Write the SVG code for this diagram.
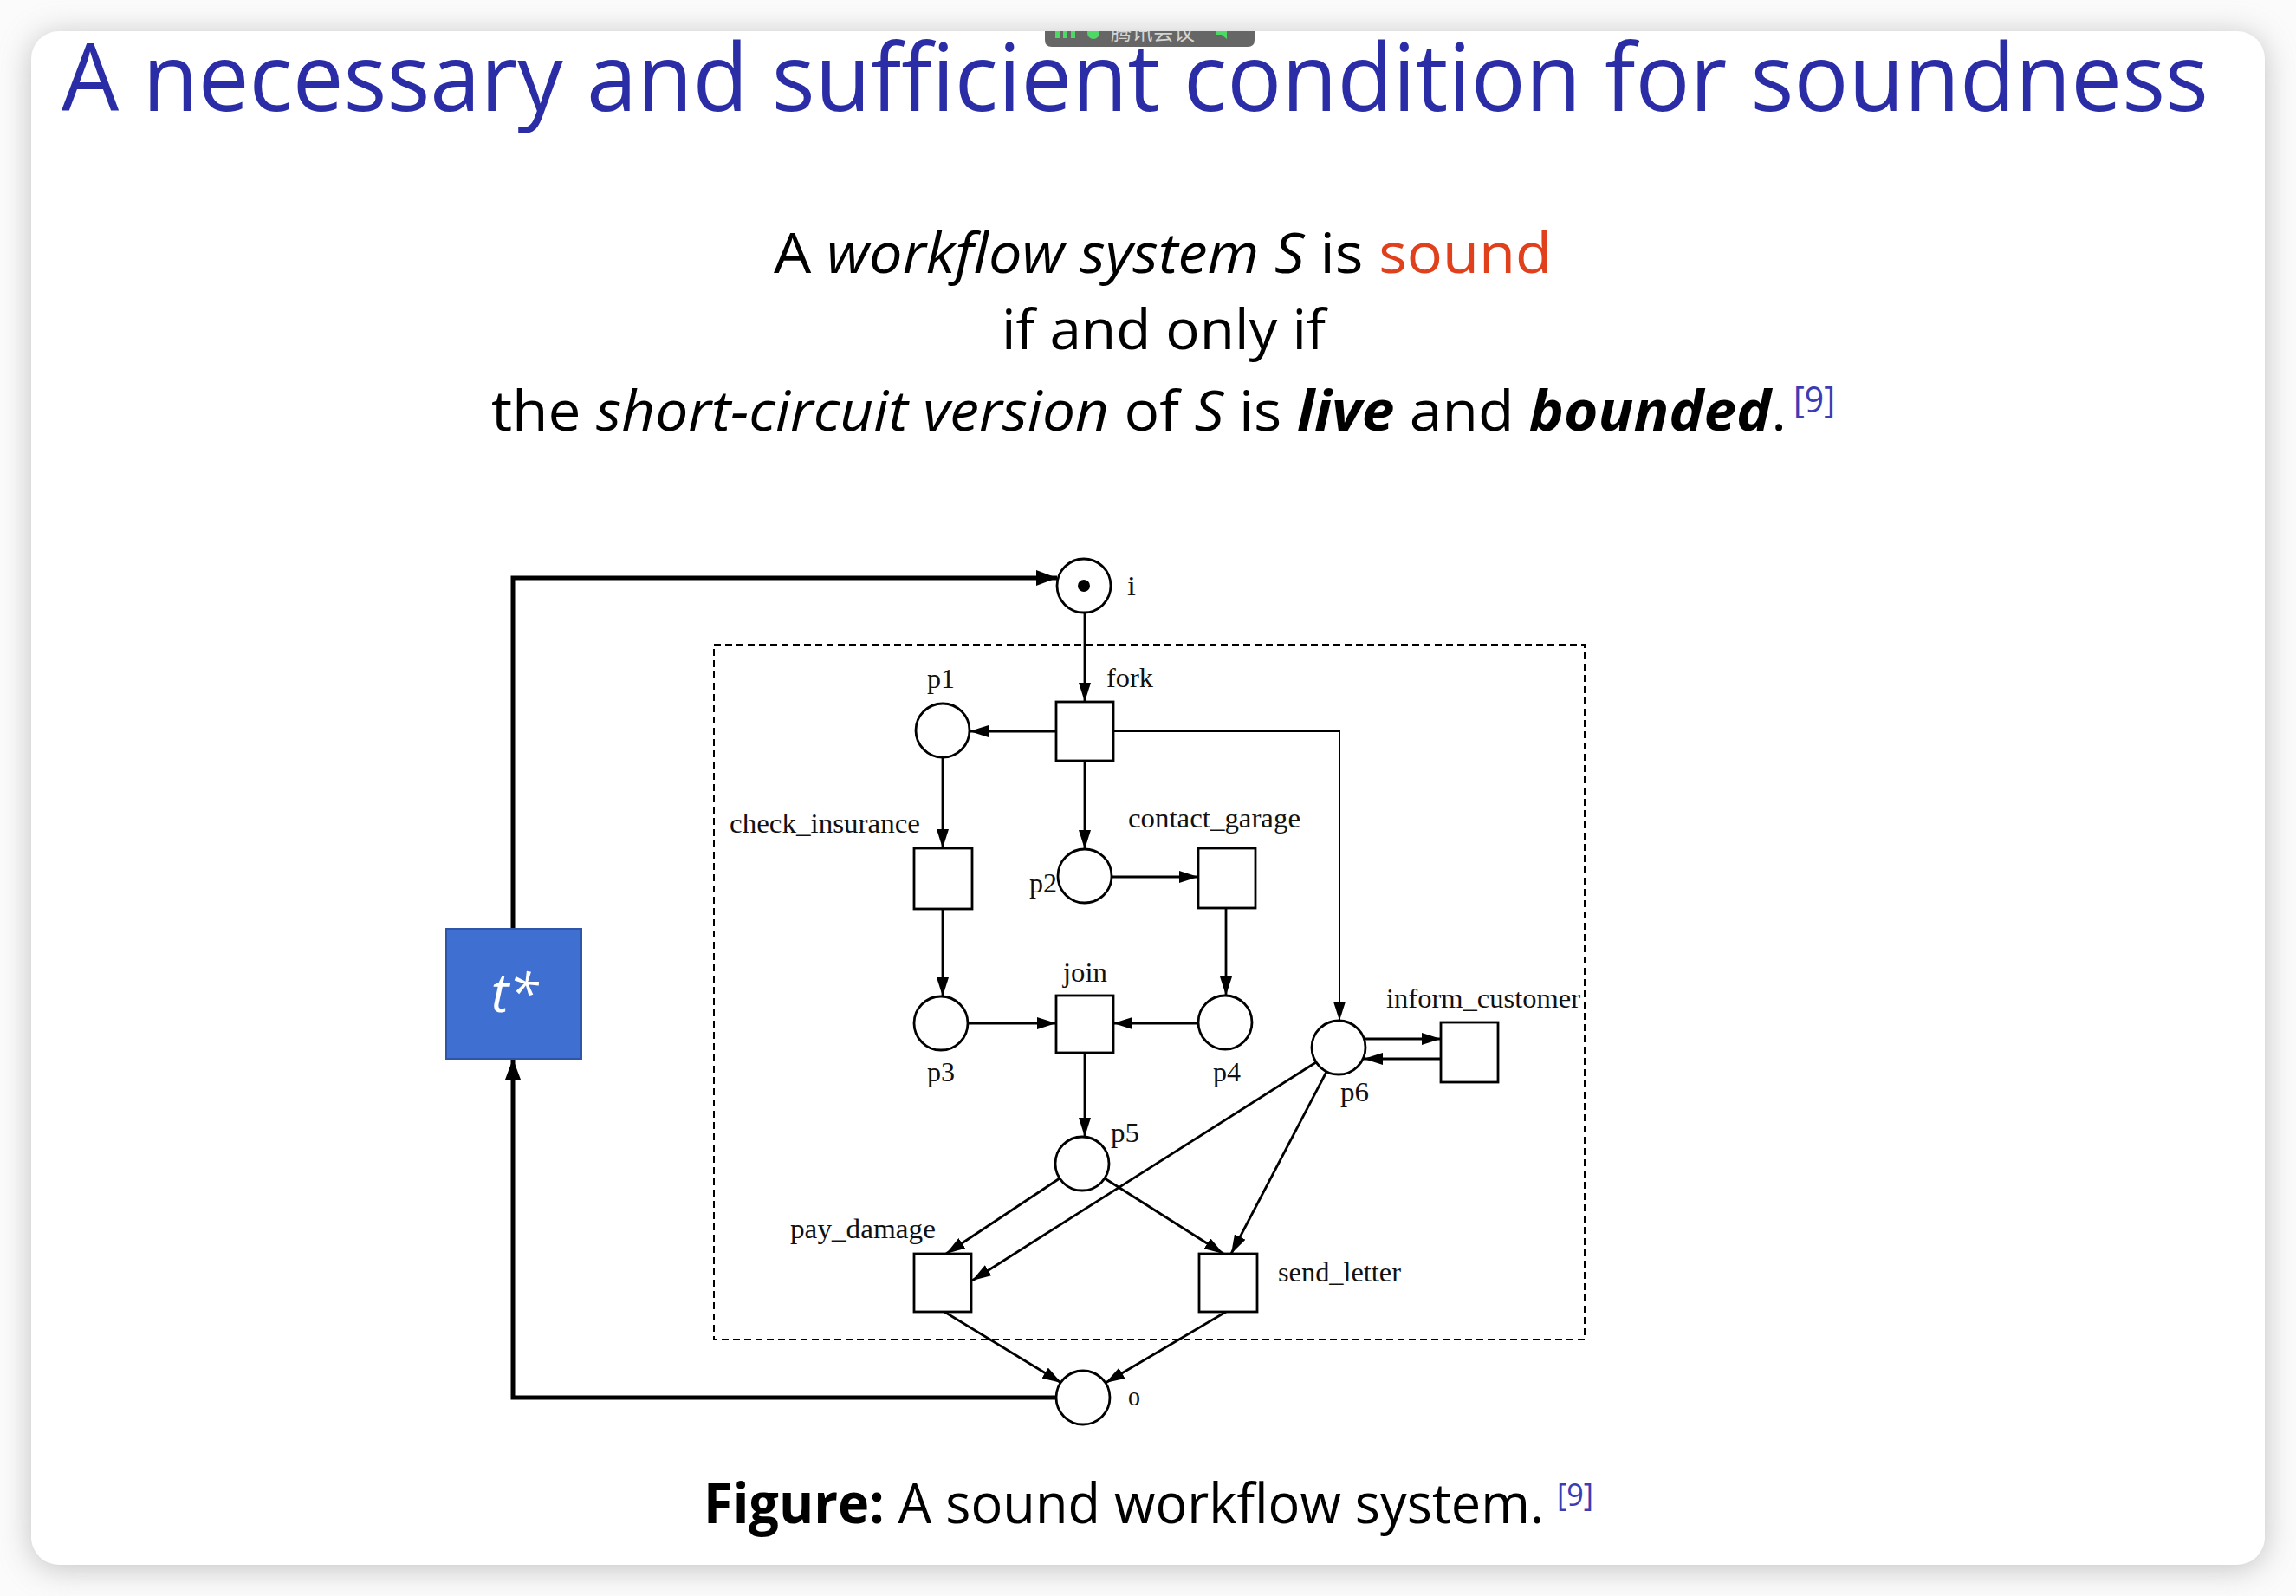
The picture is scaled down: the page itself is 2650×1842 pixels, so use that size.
<svg xmlns="http://www.w3.org/2000/svg" width="2650" height="1842" viewBox="0 0 2650 1842">
  <defs>
    <filter id="shadow" x="-10%" y="-10%" width="120%" height="120%">
      <feGaussianBlur stdDeviation="18"/>
    </filter>
    <clipPath id="pillclip">
      <rect x="1190" y="36" width="280" height="30"/>
    </clipPath>
    <marker id="arr" viewBox="0 0 22 14" refX="22" refY="7" markerWidth="22" markerHeight="14" markerUnits="userSpaceOnUse" orient="auto">
      <path d="M0,0 L22,7 L0,14 z" fill="#000"/>
    </marker>
    <marker id="arrBig" viewBox="0 0 24 18" refX="24" refY="9" markerWidth="24" markerHeight="18" markerUnits="userSpaceOnUse" orient="auto">
      <path d="M0,0 L24,9 L0,18 z" fill="#000"/>
    </marker>
    <style>
      .place { fill: #fff; stroke: #000; stroke-width: 2.8; }
      .trans { fill: #fff; stroke: #000; stroke-width: 2.8; }
      .lbl { font-family: "Liberation Serif", "Times New Roman", serif; font-size: 31px; fill: #111; }
      .arc { fill: none; stroke: #000; stroke-width: 2.8; marker-end: url(#arr); }
      .thin { stroke-width: 2; }
      .outer { fill: none; stroke: #000; stroke-width: 5; marker-end: url(#arrBig); }
      .body { font-family: "Open Sans", "Noto Sans", "DejaVu Sans", sans-serif; font-size: 64px; fill: #000; }
      .sup { font-family: "Open Sans", "Noto Sans", sans-serif; fill: #3c3cb4; }
    </style>
  </defs>

  <!-- background and card -->
  <rect x="0" y="0" width="2650" height="1842" fill="#fbfbfb"/>
  <rect x="36" y="40" width="2578" height="1770" rx="32" fill="#9a9a9a" filter="url(#shadow)" opacity="0.6"/>
  <rect x="36" y="36" width="2578" height="1770" rx="32" fill="#ffffff"/>

  <!-- title -->
  <text x="71" y="128" font-family="'Open Sans', 'Noto Sans', sans-serif" font-weight="400" font-size="108" fill="#2b2da6" textLength="2478" lengthAdjust="spacingAndGlyphs">A necessary and sufficient condition for soundness</text>

  <!-- overlay pill -->
  <g id="overlay-pill" clip-path="url(#pillclip)">
    <path d="M1206,20 L1448,20 L1448,46 Q1448,54 1440,54 L1214,54 Q1206,54 1206,46 z" fill="#666666"/>
    <rect x="1218" y="30" width="5" height="14" fill="#4cd964"/>
    <rect x="1227" y="30" width="5" height="14" fill="#4cd964"/>
    <rect x="1236" y="30" width="5" height="14" fill="#4cd964"/>
    <circle cx="1262" cy="38" r="7" fill="#4cd964"/>
    <text x="1282" y="46" font-family="'Noto Sans CJK SC', sans-serif" font-size="25" fill="#d4d4d4" textLength="97" lengthAdjust="spacingAndGlyphs">腾讯会议</text>
    <path d="M1404,33 L1410,33 L1416,28 L1416,45 L1410,40 L1404,40 z" fill="#4cd964"/>
  </g>

  <!-- statement -->
  <text class="body" x="893" y="315" textLength="898" lengthAdjust="spacingAndGlyphs">A <tspan font-style="italic">workflow system</tspan> <tspan font-style="italic">S</tspan> is <tspan fill="#e0401c">sound</tspan></text>
  <text class="body" x="1156" y="403" textLength="374" lengthAdjust="spacingAndGlyphs">if and only if</text>
  <text class="body" x="567" y="497" textLength="1495" lengthAdjust="spacingAndGlyphs">the <tspan font-style="italic">short-circuit version</tspan> of <tspan font-style="italic">S</tspan> is <tspan font-style="italic" font-weight="bold">live</tspan> and <tspan font-style="italic" font-weight="bold">bounded</tspan>.</text>
  <text class="sup" x="2070" y="476" font-size="42" textLength="48" lengthAdjust="spacingAndGlyphs">[9]</text>

  <!-- dashed boundary -->
  <rect x="824" y="744" width="1005" height="802" fill="none" stroke="#000" stroke-width="2" stroke-dasharray="8,5"/>

  <!-- connectors -->
  <g id="connectors">
    <path class="arc" d="M1252,707 L1252,810"/>
    <path class="arc" d="M1219,844 L1119,844"/>
    <path class="arc thin" d="M1285,844 L1546,844 L1546,1178"/>
    <path class="arc" d="M1252,878 L1252,980"/>
    <path class="arc" d="M1088,875 L1088,979"/>
    <path class="arc" d="M1283,1012 L1383,1012"/>
    <path class="arc" d="M1088,1049 L1088,1150"/>
    <path class="arc" d="M1415,1048 L1415,1149"/>
    <path class="arc" d="M1117,1181 L1219,1181"/>
    <path class="arc" d="M1384,1181 L1285,1181"/>
    <path class="arc" d="M1252,1215 L1252,1312"/>
    <path class="arc" d="M1576,1199 L1663,1199"/>
    <path class="arc" d="M1663,1222 L1574,1222"/>
    <path class="arc" d="M1223,1360 L1092,1447"/>
    <path class="arc" d="M1275,1360 L1412,1447"/>
    <path class="arc" d="M1519,1226 L1122,1478"/>
    <path class="arc" d="M1531,1237 L1421,1447"/>
    <path class="arc" d="M1090,1514 L1225,1596"/>
    <path class="arc" d="M1415,1514 L1276,1596"/>
    <path class="outer" d="M1219,1613 L592,1613 L592,1222"/>
    <path class="outer" d="M592,1072 L592,667 L1220,667"/>
  </g>

  <!-- nodes -->
  <g id="node-i">
    <circle class="place" cx="1251" cy="676" r="31"/>
    <circle cx="1251" cy="676" r="7" fill="#000"/>
    <text class="lbl" x="1301" y="687" textLength="10" lengthAdjust="spacingAndGlyphs">i</text>
  </g>
  <g id="node-fork">
    <rect class="trans" x="1219" y="810" width="66" height="68"/>
    <text class="lbl" x="1277" y="793" textLength="54" lengthAdjust="spacingAndGlyphs">fork</text>
  </g>
  <g id="node-p1">
    <circle class="place" cx="1088" cy="843" r="31"/>
    <text class="lbl" x="1070" y="794" textLength="32" lengthAdjust="spacingAndGlyphs">p1</text>
  </g>
  <g id="node-check_insurance">
    <rect class="trans" x="1055" y="979" width="67" height="70"/>
    <text class="lbl" x="842" y="961" textLength="220" lengthAdjust="spacingAndGlyphs">check_insurance</text>
  </g>
  <g id="node-p2">
    <circle class="place" cx="1252" cy="1011" r="31"/>
    <text class="lbl" x="1188" y="1030" textLength="32" lengthAdjust="spacingAndGlyphs">p2</text>
  </g>
  <g id="node-contact_garage">
    <rect class="trans" x="1383" y="979" width="66" height="69"/>
    <text class="lbl" x="1302" y="955" textLength="199" lengthAdjust="spacingAndGlyphs">contact_garage</text>
  </g>
  <g id="node-p3">
    <circle class="place" cx="1086" cy="1181" r="31"/>
    <text class="lbl" x="1070" y="1248" textLength="32" lengthAdjust="spacingAndGlyphs">p3</text>
  </g>
  <g id="node-join">
    <rect class="trans" x="1219" y="1149" width="66" height="66"/>
    <text class="lbl" x="1227" y="1133" textLength="51" lengthAdjust="spacingAndGlyphs">join</text>
  </g>
  <g id="node-p4">
    <circle class="place" cx="1414" cy="1180" r="31"/>
    <text class="lbl" x="1400" y="1248" textLength="32" lengthAdjust="spacingAndGlyphs">p4</text>
  </g>
  <g id="node-p6">
    <circle class="place" cx="1545" cy="1209" r="31"/>
    <text class="lbl" x="1547" y="1271" textLength="33" lengthAdjust="spacingAndGlyphs">p6</text>
  </g>
  <g id="node-inform_customer">
    <rect class="trans" x="1663" y="1180" width="66" height="69"/>
    <text class="lbl" x="1600" y="1163" textLength="224" lengthAdjust="spacingAndGlyphs">inform_customer</text>
  </g>
  <g id="node-p5">
    <circle class="place" cx="1249" cy="1343" r="31"/>
    <text class="lbl" x="1282" y="1318" textLength="33" lengthAdjust="spacingAndGlyphs">p5</text>
  </g>
  <g id="node-pay_damage">
    <rect class="trans" x="1055" y="1447" width="66" height="67"/>
    <text class="lbl" x="912" y="1429" textLength="168" lengthAdjust="spacingAndGlyphs">pay_damage</text>
  </g>
  <g id="node-send_letter">
    <rect class="trans" x="1384" y="1447" width="67" height="67"/>
    <text class="lbl" x="1475" y="1479" textLength="142" lengthAdjust="spacingAndGlyphs">send_letter</text>
  </g>
  <g id="node-o">
    <circle class="place" cx="1250" cy="1613" r="31"/>
    <text class="lbl" x="1302" y="1622" textLength="14" lengthAdjust="spacingAndGlyphs">o</text>
  </g>
  <g id="node-tstar">
    <rect x="515" y="1072" width="156" height="150" fill="#3f6fd0" stroke="#2f55a8" stroke-width="2"/>
    <text x="594" y="1168" text-anchor="middle" font-family="'Open Sans', 'Noto Sans', sans-serif" font-style="italic" font-size="62" fill="#ffffff">t*</text>
  </g>

  <!-- caption -->
  <text class="body" x="812" y="1758" font-size="60" textLength="970" lengthAdjust="spacingAndGlyphs"><tspan font-weight="bold">Figure:</tspan> A sound workflow system.</text>
  <text class="sup" x="1797" y="1738" font-size="36" textLength="42" lengthAdjust="spacingAndGlyphs">[9]</text>
</svg>
